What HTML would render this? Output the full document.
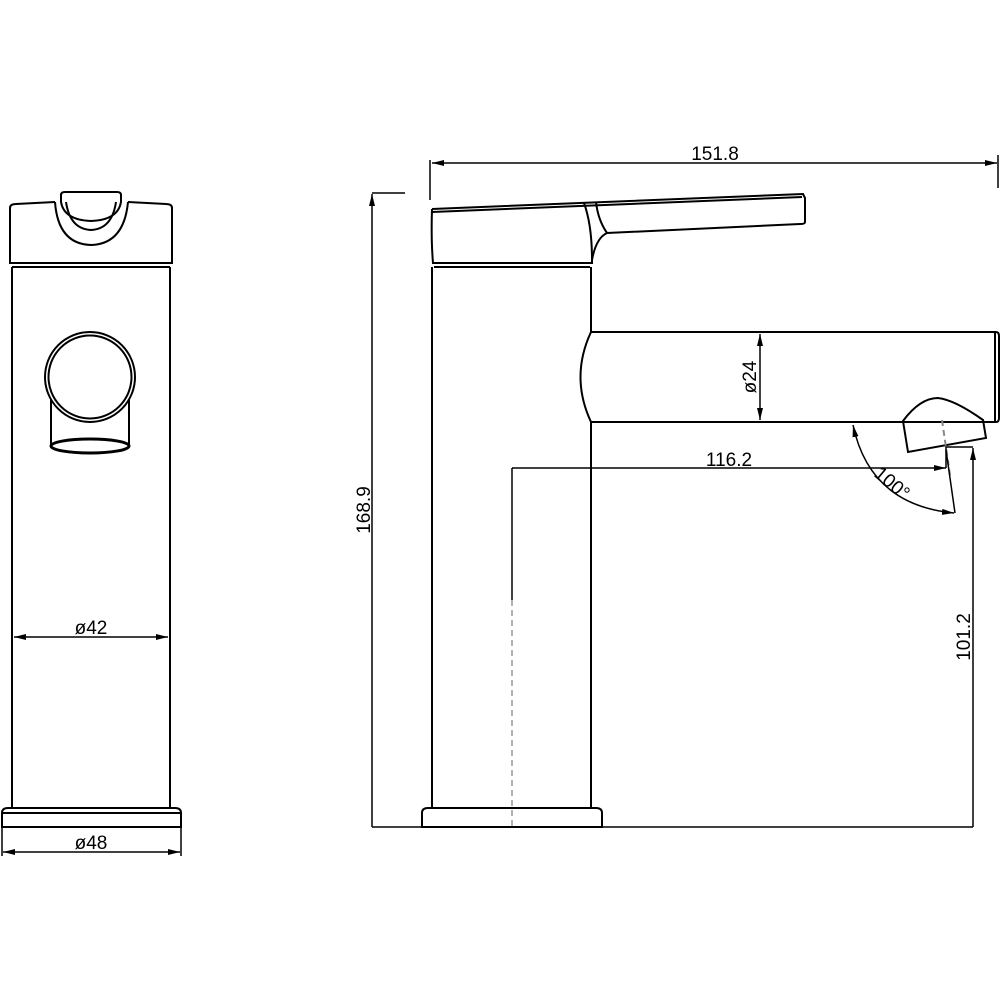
<!DOCTYPE html>
<html><head><meta charset="utf-8"><style>html,body{margin:0;padding:0;background:#fff}svg{display:block}text{font-family:"Liberation Sans",sans-serif;font-size:19px;fill:#000}</style></head><body>
<svg width="1000" height="1000" viewBox="0 0 1000 1000" xmlns="http://www.w3.org/2000/svg">
<defs>
<marker id="a" viewBox="0 0 12 6" refX="12" refY="3" markerWidth="12" markerHeight="6" orient="auto-start-reverse" markerUnits="userSpaceOnUse"><path d="M0,0L12,3L0,6z" fill="#000"/></marker>
</defs>
<g fill="none" stroke="#000" stroke-width="2">
<!-- left view -->
<path d="M10,250 L10,208 Q10,204 16,204 L55,202 M128,202 L166,204 Q172,204 172,208 L172,263 L10,263 L10,250"/>
<path d="M61,202 L61,195 Q61,192 65,192 L117,192 Q121,192 121,195 L121,202 Q118,220 91,221 Q64,220 61,202"/>
<path d="M55,202 Q58,244 91,245 Q124,244 128,202"/>
<path d="M66,202 Q70,229 91,230 Q112,229 116,202"/>
<line x1="12" y1="267" x2="170" y2="267"/>
<path d="M12,267 L12,808 M170,267 L170,808"/>
<circle cx="90" cy="377" r="45"/>
<circle cx="90" cy="377" r="41.5"/>
<path d="M51,400 L51,446 M129,400 L129,446"/>
<ellipse cx="90" cy="446" rx="39" ry="7" stroke-width="3"/>
<path d="M2,827 L2,813 Q2,808 8,808 L175,808 Q181,808 181,813 L181,827 Z"/>
<line x1="3" y1="813" x2="180" y2="813"/>
<line x1="14" y1="637" x2="168" y2="637" marker-start="url(#a)" marker-end="url(#a)" stroke-width="1.5"/>
<line x1="3" y1="852" x2="180" y2="852" marker-start="url(#a)" marker-end="url(#a)" stroke-width="1.5"/>
<path d="M2,827 L2,856 M181,827 L181,856" stroke-width="1.5"/>
<!-- right view body -->
<path d="M432,267 L432,808 M591,267 L591,332 M591,422 L591,808"/>
<path d="M422,827 L422,813 Q422,808 428,808 L596,808 Q602,808 602,813 L602,827 Z"/>
<path d="M432,209 L803,194 L805,198 L805,222 Q805,224 800,224 L607,233 Q596,238 592,260 L592,263 L433,263 Q431,240 432,209"/>
<line x1="432" y1="212" x2="802" y2="197"/>
<path d="M584,203 Q592,225 592,260 M596,202 Q598,220 607,233"/>
<line x1="434" y1="267" x2="590" y2="267"/>
<!-- spout -->
<path d="M591,332 L996,332 Q999,332 999,336 L999,418 Q999,422 996,422 L591,422 Q570,377 591,332"/>
<line x1="995" y1="333" x2="995" y2="421"/>
<path d="M903,421 Q920,398 938,398 Q955,400 983,420 L986,438 L908,452 Z"/>
<line x1="942" y1="420" x2="950" y2="475" stroke="#888" stroke-dasharray="6,4"/>
<!-- dims -->
<g stroke-width="1.5">
<line x1="760" y1="334" x2="760" y2="420" marker-start="url(#a)" marker-end="url(#a)"/>
<line x1="512" y1="468" x2="946" y2="468" marker-end="url(#a)"/>
<path d="M946,468 L946,447 L973,447"/>
<line x1="512" y1="468" x2="512" y2="600"/>
<line x1="512" y1="600" x2="512" y2="827" stroke="#999" stroke-dasharray="6,4"/>
<line x1="973" y1="827" x2="973" y2="448" marker-end="url(#a)"/>
<line x1="372" y1="827" x2="372" y2="194" marker-end="url(#a)"/>
<line x1="372" y1="193" x2="405" y2="193"/>
<line x1="432" y1="163" x2="997" y2="163" marker-start="url(#a)" marker-end="url(#a)"/>
<path d="M430,160 L430,200 M998,155 L998,188"/>
<line x1="372" y1="827" x2="973" y2="827"/>
<line x1="946" y1="450" x2="955" y2="513"/>
<path d="M853,425 Q870,505 954,513" marker-start="url(#a)" marker-end="url(#a)"/>
</g>
</g>
<text x="91" y="634" text-anchor="middle">ø42</text>
<text x="91" y="849" text-anchor="middle">ø48</text>
<text x="715" y="160" text-anchor="middle">151.8</text>
<text x="729" y="466" text-anchor="middle">116.2</text>
<text transform="translate(756,377) rotate(-90)" text-anchor="middle">ø24</text>
<text transform="translate(370,510) rotate(-90)" text-anchor="middle">168.9</text>
<text transform="translate(970,637) rotate(-90)" text-anchor="middle">101.2</text>
<text transform="translate(888,488) rotate(40)" text-anchor="middle">100°</text>
</svg>
</body></html>
